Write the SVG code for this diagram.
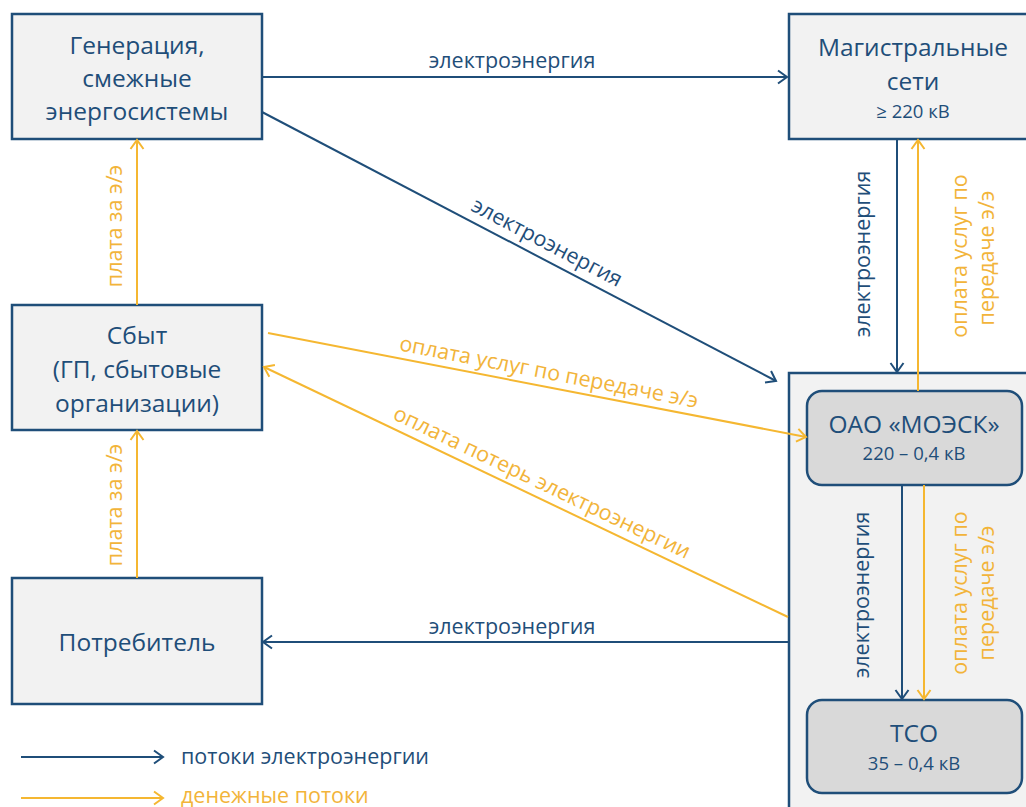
<svg xmlns="http://www.w3.org/2000/svg" width="1026" height="807" viewBox="0 0 1026 807">
<defs>
<style>
.box{fill:#F2F2F2;stroke:#1F4E79;stroke-width:2.5}
.inner{fill:#D9D9D9;stroke:#1F4E79;stroke-width:2.5}
.t{font-family:"Open Sans","Noto Sans",sans-serif;fill:#1F4E79;text-anchor:middle}
.big{font-size:24.5px}
.sub{font-size:18.5px}
.lbl{font-family:"Open Sans","Noto Sans",sans-serif;font-size:21.5px;text-anchor:middle}
.leg{font-family:"Open Sans","Noto Sans",sans-serif;font-size:21.5px}
.bl{fill:#1F4E79}
.yl{fill:#F2B43A}
.eb{stroke:#1F4E79;stroke-width:2;fill:none;marker-end:url(#ab)}
.ey{stroke:#F5B731;stroke-width:2;fill:none;marker-end:url(#ay)}
</style>
<marker id="ab" markerUnits="userSpaceOnUse" markerWidth="14" markerHeight="16" refX="11" refY="8" orient="auto">
<path d="M2,1.5 L11,8 L2,14.5" fill="none" stroke="#1F4E79" stroke-width="2"/>
</marker>
<marker id="ay" markerUnits="userSpaceOnUse" markerWidth="14" markerHeight="16" refX="11" refY="8" orient="auto">
<path d="M2,1.5 L11,8 L2,14.5" fill="none" stroke="#F5B731" stroke-width="2"/>
</marker>
</defs>
<rect width="1026" height="807" fill="#FFFFFF"/>

<g id="container">
<rect x="789" y="373" width="245" height="440" class="box"/>
</g>

<g id="gen">
<rect x="12" y="14" width="250" height="125" class="box"/>
<text class="t big" x="137" y="54">Генерация,</text>
<text class="t big" x="137" y="87">смежные</text>
<text class="t big" x="137" y="120">энергосистемы</text>
</g>

<g id="mag">
<rect x="789" y="14" width="245" height="125" class="box"/>
<text class="t big" x="913" y="56">Магистральные</text>
<text class="t big" x="913" y="90">сети</text>
<text class="t sub" x="913" y="118">≥ 220 кВ</text>
</g>

<g id="sbyt">
<rect x="12" y="305" width="250" height="125" class="box"/>
<text class="t big" x="137" y="344">Сбыт</text>
<text class="t big" x="137" y="378">(ГП, сбытовые</text>
<text class="t big" x="137" y="412">организации)</text>
</g>

<g id="potr">
<rect x="12" y="578" width="250" height="126" class="box"/>
<text class="t big" x="137" y="651">Потребитель</text>
</g>

<g id="moesk">
<rect x="807" y="391" width="215" height="94" rx="15" class="inner"/>
<text class="t big" x="914" y="433">ОАО «МОЭСК»</text>
<text class="t sub" x="914" y="460">220 – 0,4 кВ</text>
</g>

<g id="tso">
<rect x="807" y="700" width="215" height="93" rx="15" class="inner"/>
<text class="t big" x="914" y="742">ТСО</text>
<text class="t sub" x="914" y="770">35 – 0,4 кВ</text>
</g>

<g id="connectors">
<line x1="262" y1="77" x2="787" y2="77" class="eb"/>
<line x1="262" y1="112" x2="776" y2="381" class="eb"/>
<line x1="897" y1="139" x2="897" y2="372" class="eb"/>
<line x1="918" y1="391" x2="918" y2="140" class="ey"/>
<line x1="268" y1="333" x2="806" y2="437" class="ey"/>
<line x1="788" y1="617" x2="264" y2="367" class="ey"/>
<line x1="789" y1="642" x2="263" y2="642" class="eb"/>
<line x1="902" y1="485" x2="902" y2="699" class="eb"/>
<line x1="924" y1="485" x2="924" y2="699" class="ey"/>
<line x1="137" y1="305" x2="137" y2="140" class="ey"/>
<line x1="137" y1="578" x2="137" y2="431" class="ey"/>
</g>

<g id="labels">
<text class="lbl bl" x="512" y="68">электроэнергия</text>
<text class="lbl bl" transform="translate(541,254) rotate(27.6)" y="-6">электроэнергия</text>
<text class="lbl yl" transform="translate(546,387) rotate(10.94)" y="-8">оплата услуг по передаче э/э</text>
<text class="lbl yl" transform="translate(535,497) rotate(25.55)" y="-9">оплата потерь электроэнергии</text>
<text class="lbl bl" x="512" y="634">электроэнергия</text>
<text class="lbl bl" transform="translate(870,254) rotate(-90)">электроэнергия</text>
<text class="lbl yl" transform="translate(967,256) rotate(-90)">оплата услуг по</text>
<text class="lbl yl" transform="translate(994,258) rotate(-90)">передаче э/э</text>
<text class="lbl bl" transform="translate(869,595) rotate(-90)">электроэнергия</text>
<text class="lbl yl" transform="translate(967,593) rotate(-90)">оплата услуг по</text>
<text class="lbl yl" transform="translate(994,593) rotate(-90)">передаче э/э</text>
<text class="lbl yl" transform="translate(122,226) rotate(-90)">плата за э/э</text>
<text class="lbl yl" transform="translate(122,505) rotate(-90)">плата за э/э</text>
</g>

<g id="legend">
<line x1="21" y1="757" x2="163" y2="757" class="eb"/>
<text class="leg bl" x="181" y="764">потоки электроэнергии</text>
<line x1="21" y1="798" x2="163" y2="798" class="ey"/>
<text class="leg yl" x="181" y="803">денежные потоки</text>
</g>
</svg>
